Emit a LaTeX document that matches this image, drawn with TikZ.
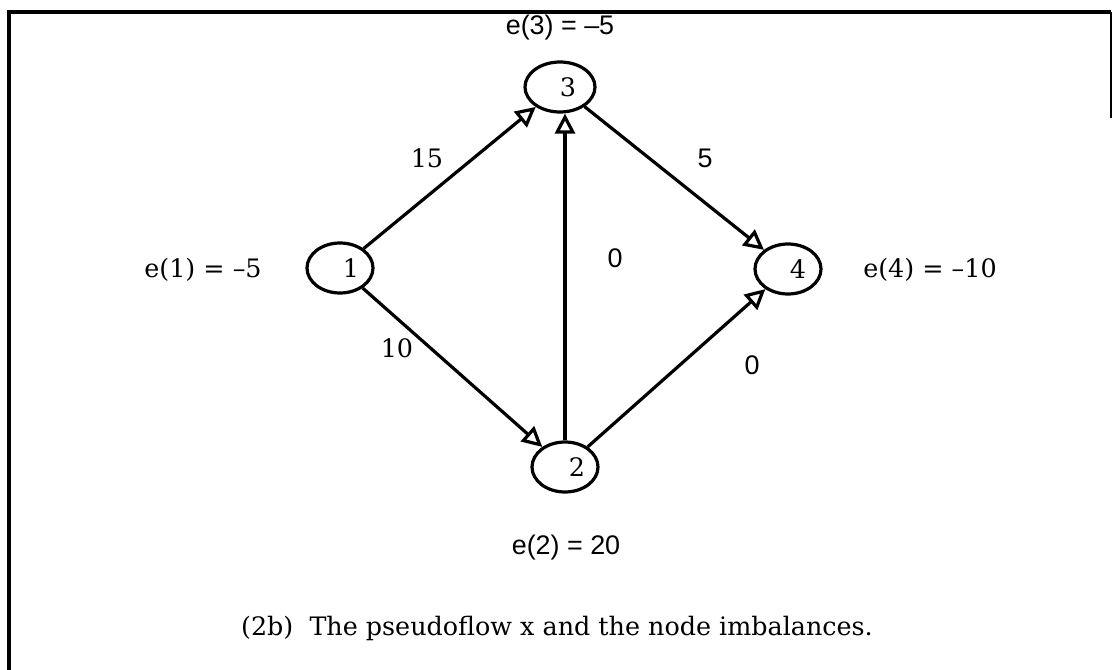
\documentclass[tikz,border=0pt]{standalone}
\usepackage{fontspec}
\setmainfont{DejaVu Serif}
\setsansfont{Liberation Sans}
\usetikzlibrary{arrows.meta,shapes.geometric}

\begin{document}
\begin{tikzpicture}[x=1bp, y=-1bp, line width=3.2bp,
  vert/.style={draw, ellipse, minimum width=66bp, minimum height=50bp, inner sep=0pt, font=\fontsize{25.5}{30}\selectfont},
  lbl/.style={inner sep=0pt, font=\fontsize{25.5}{30}\selectfont},
  slbl/.style={inner sep=0pt, font=\fontsize{27}{32}\selectfont\sffamily},
  arr/.style={-{Triangle[open, length=20bp, width=20bp]}}]
\useasboundingbox (0,0) rectangle (1114,670);
% frame, open at the bottom
\draw (1111,12) -- (9,12) -- (9,670);
\draw[line width=1.5bp] (1111,12) -- (1111,118);
% vertices
\node[vert] (n1) at (340,268) {\hspace*{22bp}1};
\node[vert, minimum width=70bp] (n3) at (560,87) {\hspace*{16bp}3};
\node[vert] (n2) at (565,467) {\hspace*{24bp}2};
\node[vert] (n4) at (788,269) {\hspace*{20bp}4};
% imbalances
\node[lbl] (e1) at (203,270) {e(1) = --5};
\node[slbl] (e3) at (560,28) {e(3) = --5};
\node[lbl] (e4) at (930,270) {e(4) = --10};
\node[slbl] (e2) at (566,548) {e(2) = 20};
% arcs and flows
\draw[arr] (n1) -- (n3);
\draw[arr] (n3) -- (n4);
\draw[arr] (n1) -- (n2);
\draw[arr] (n2.north) -- (n2.north |- n3.south);
\draw[arr] (n2) -- (n4);
\node[lbl] (f13) at (427,158) {15};
\node[slbl] (f34) at (705,158) {5};
\node[slbl] (f23) at (615,258) {0};
\node[lbl] (f12) at (397,348) {10};
\node[slbl] (f24) at (752,365) {0};
% caption
\node[lbl] (cap) at (557,628) {(2b)\ \ The pseudoflow x and the node imbalances.};
\end{tikzpicture}
\end{document}
